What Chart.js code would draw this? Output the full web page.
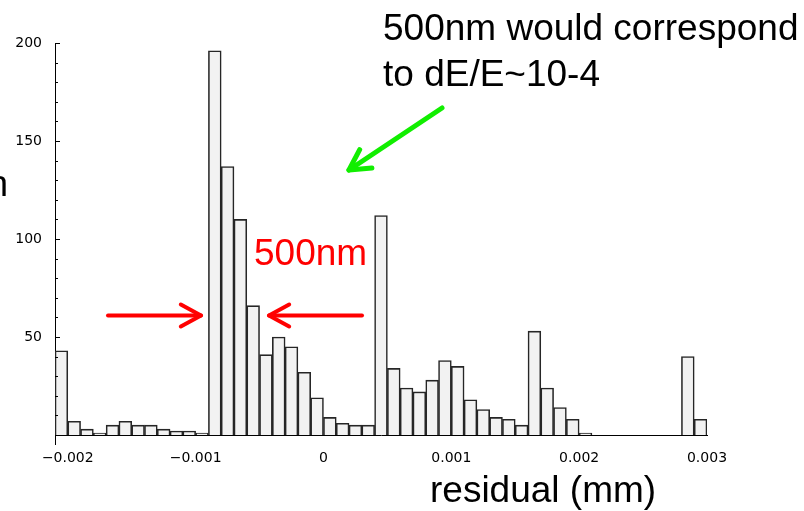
<!DOCTYPE html>
<html><head><meta charset="utf-8">
<script src="https://cdn.jsdelivr.net/npm/chart.js@4/dist/chart.umd.min.js"></script>
<style>html,body{margin:0;padding:0;background:#fff;overflow:hidden}canvas{display:block}</style>
</head><body>
<canvas id="c" width="804" height="511"></canvas>
<script>
// histogram bins (centres, mm) and counts
const binCenters = [
  -0.00205,-0.00195,-0.00185,-0.00175,-0.00165,-0.00155,-0.00145,-0.00135,-0.00125,-0.00115,
  -0.00105,-0.00095,-0.00085,-0.00075,-0.00065,-0.00055,-0.00045,-0.00035,-0.00025,-0.00015,
  -0.00005,0.00005,0.00015,0.00025,0.00035,0.00045,0.00055,0.00065,0.00075,0.00085,
  0.00095,0.00105,0.00115,0.00125,0.00135,0.00145,0.00155,0.00165,0.00175,0.00185,
  0.00195,0.00205,0.00215,0.00225,0.00235,0.00245,0.00255,0.00265,0.00275,0.00285,0.00295
];
const counts = [
  43,7,3,1,5,7,5,5,3,2,2,1,
  196,137,110,66,41,50,45,32,19,9,
  6,5,5,
  112,34,24,22,28,38,35,18,13,9,8,5,
  53,24,14,8,1,
  0,0,0,0,0,0,0,
  40,8
];
const xTicks = [-0.002,-0.001,0,0.001,0.002,0.003];
const xTickLabels = ['\u22120.002','\u22120.001','0','0.001','0.002','0.003'];
const yTicks = [50,100,150,200];
const yTickLabels = ['50','100','150','200'];
const yMinorTicks = [10,20,30,40,60,70,80,90,110,120,130,140,160,170,180,190];
const xAxisTitle = 'residual (mm)';
const noteLines = ['500nm would correspond','to dE/E~10-4'];
const redLabel = '500nm';

function arrow(ctx, x1, y1, x2, y2, head, color, w){
  ctx.save();
  ctx.strokeStyle = color; ctx.lineWidth = w; ctx.lineCap = 'round'; ctx.lineJoin='round';
  ctx.beginPath(); ctx.moveTo(x1,y1); ctx.lineTo(x2,y2); ctx.stroke();
  const a = Math.atan2(y2-y1, x2-x1), s = 0.5;
  ctx.beginPath();
  ctx.moveTo(x2 - head*Math.cos(a-s), y2 - head*Math.sin(a-s));
  ctx.lineTo(x2,y2);
  ctx.lineTo(x2 - head*Math.cos(a+s), y2 - head*Math.sin(a+s));
  ctx.stroke();
  ctx.restore();
}

const deco = {
  id:'deco',
  afterDraw(chart){
    const ctx = chart.ctx, y = chart.scales.y;
    const left = chart.chartArea.left, bottom = chart.chartArea.bottom;
    ctx.save();
    ctx.strokeStyle = '#000'; ctx.lineWidth = 1;
    ctx.beginPath();
    ctx.moveTo(left+0.5, bottom); ctx.lineTo(left+0.5, bottom+10);
    yTicks.forEach(v=>{ const p = Math.round(y.getPixelForValue(v))+0.5; ctx.moveTo(left, p); ctx.lineTo(left+5, p); });
    yMinorTicks.forEach(v=>{ const p = Math.round(y.getPixelForValue(v))+0.5; ctx.moveTo(left, p); ctx.lineTo(left+3, p); });
    ctx.stroke();

    ctx.fillStyle = '#000';
    ctx.font = '37px "Liberation Sans", Arial, sans-serif';
    ctx.textBaseline = 'alphabetic';
    ctx.textAlign = 'left';
    ctx.fillText(noteLines[0], 383, 40);
    ctx.fillText(noteLines[1], 383, 86);
    ctx.fillText(xAxisTitle, 430, 502);
    ctx.textAlign = 'right';
    ctx.fillText('n', 8, 196);

    ctx.textAlign = 'left';
    ctx.fillStyle = '#ff0000';
    ctx.fillText(redLabel, 254, 265);

    arrow(ctx, 108, 315.5, 201, 315.5, 23, '#ff0000', 4);
    arrow(ctx, 362, 315.5, 269, 315.5, 23, '#ff0000', 4);
    arrow(ctx, 442, 108, 349, 170, 23, '#11ee00', 5);
    ctx.restore();
  }
};

new Chart(document.getElementById('c'), {
  type: 'bar',
  data: { datasets: [{
    data: binCenters.map((v,i)=>({x:v, y:counts[i]})),
    backgroundColor: '#f2f2f2',
    borderColor: '#262626',
    borderWidth: 1.6,
    borderSkipped: 'start',
    barPercentage: 1,
    categoryPercentage: 1
  }]},
  options: {
    responsive: false, animation: false, devicePixelRatio: 1,
    layout: { padding: { left: 0, right: 97, top: 43, bottom: 0 } },
    plugins: { legend: { display: false }, tooltip: { enabled: false } },
    scales: {
      x: {
        type: 'linear', min: -0.0021, max: 0.003, offset: false,
        grid: { display: false, drawTicks: false },
        border: { display: true, color: '#000', width: 1 },
        afterBuildTicks: s => { s.ticks = xTicks.map(v=>({value:v})); },
        afterFit: s => { s.height = 76; },
        ticks: { autoSkip:false, maxRotation:0, padding: 15, color:'#000',
          font: { family: 'DejaVu Sans', size: 14 },
          callback: (v,i) => xTickLabels[i] }
      },
      y: {
        min: 0, max: 200,
        grid: { display: false, drawTicks: false },
        border: { display: true, color: '#000', width: 1 },
        afterBuildTicks: s => { s.ticks = yTicks.map(v=>({value:v})); },
        afterFit: s => { s.width = 55; },
        ticks: { padding: 13, color:'#000',
          font: { family: 'DejaVu Sans', size: 14 },
          callback: (v,i) => yTickLabels[i] }
      }
    }
  },
  plugins: [deco]
});
</script>
</body></html>
